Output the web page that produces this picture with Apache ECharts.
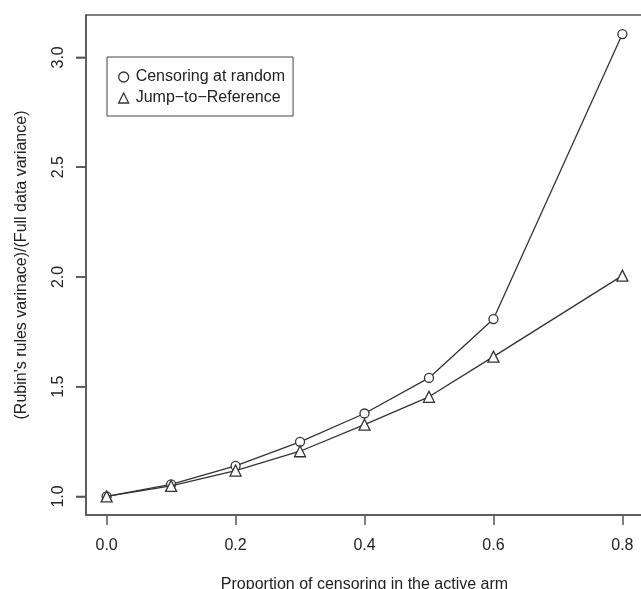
<!DOCTYPE html>
<html>
<head>
<meta charset="utf-8">
<script src="https://cdn.jsdelivr.net/npm/echarts@6/dist/echarts.min.js"></script>
<style>
  html, body { margin: 0; padding: 0; background: #fff; }
  #chart { width: 641px; height: 589px; }
</style>
</head>
<body>
<div id="chart"></div>
<script>
// === DATA ===
const propCensored = [0.0, 0.1, 0.2, 0.3, 0.4, 0.5, 0.6, 0.8];
const carRatio = [1.0, 1.055, 1.139, 1.249, 1.378, 1.540, 1.808, 3.106];
const j2rRatio = [1.0, 1.048, 1.118, 1.206, 1.327, 1.454, 1.637, 2.006];
const xTicks = [0.0, 0.2, 0.4, 0.6, 0.8];
const yTicks = [1.0, 1.5, 2.0, 2.5, 3.0];

const INK = '#333333';
const FRAME = '#555555';
const FONT = 'Liberation Sans, Arial, sans-serif';
const X_MIN = -0.032, X_MAX = 0.832;
const Y_MIN = 0.9156, Y_MAX = 3.193;
const TICK_LEN = 10;

const chart = echarts.init(document.getElementById('chart'), null, { renderer: 'canvas' });

const pairs = (xs, ys) => xs.map((x, i) => [x, ys[i]]);
const markStyle = { color: '#ffffff', borderColor: INK, borderWidth: 1.3 };

// y ticks drawn outward from the left frame, placed through the axis scale
function renderYTick(params, api) {
    const p = api.coord([api.value(0), api.value(1)]);
    return {
        type: 'line',
        shape: { x1: p[0] - TICK_LEN, y1: p[1], x2: p[0], y2: p[1] },
        style: { stroke: FRAME, lineWidth: 1.5 }
    };
}

chart.setOption({
    animation: false,
    backgroundColor: '#ffffff',
    textStyle: { fontFamily: FONT },
    grid: {
        left: 86, top: 15, right: -2, bottom: 74,
        outerBoundsMode: 'none',
        show: true, borderColor: FRAME, borderWidth: 1.5
    },
    legend: {
        orient: 'vertical',
        left: 107, top: 57,
        padding: [12, 8, 10, 11],
        itemWidth: 10, itemHeight: 10, itemGap: 5,
        borderColor: '#444444', borderWidth: 1,
        textStyle: { color: '#222222', fontSize: 16, fontFamily: FONT, padding: [0, 0, 0, 2] },
        data: [
            { name: 'Censoring at random', icon: 'circle', itemStyle: markStyle },
            { name: 'Jump\u2212to\u2212Reference', icon: 'triangle', itemStyle: markStyle }
        ]
    },
    xAxis: {
        type: 'value',
        min: X_MIN, max: X_MAX,
        name: 'Proportion of censoring in the active arm',
        nameLocation: 'middle', nameGap: 62,
        nameTextStyle: { color: '#222222', fontSize: 16, fontFamily: FONT },
        axisLine: { show: true, onZero: false, lineStyle: { color: FRAME, width: 1.5 } },
        splitLine: { show: false },
        axisTick: { show: true, customValues: xTicks, length: TICK_LEN,
            lineStyle: { color: FRAME, width: 1.5 } },
        axisLabel: { customValues: xTicks, margin: 23, color: '#222222', fontSize: 16,
            formatter: v => v.toFixed(1) }
    },
    yAxis: {
        type: 'value',
        min: Y_MIN, max: Y_MAX,
        name: "(Rubin's rules varinace)/(Full data variance)",
        nameLocation: 'middle', nameGap: 56, nameRotate: 90,
        nameTextStyle: { color: '#222222', fontSize: 16, fontFamily: FONT },
        axisLine: { show: true, onZero: false, lineStyle: { color: FRAME, width: 1.5 } },
        splitLine: { show: false },
        axisTick: { show: true, customValues: yTicks, length: TICK_LEN,
            lineStyle: { color: FRAME, width: 1.5 } },
        axisLabel: { customValues: yTicks, margin: 19, rotate: 90, color: '#222222', fontSize: 16,
            formatter: v => v.toFixed(1) }
    },
    series: [
        {
            name: 'Censoring at random',
            type: 'line',
            data: pairs(propCensored, carRatio),
            symbol: 'circle', symbolSize: 9,
            lineStyle: { color: INK, width: 1.3 },
            itemStyle: markStyle,
            z: 2
        },
        {
            name: 'Jump\u2212to\u2212Reference',
            type: 'line',
            data: pairs(propCensored, j2rRatio),
            symbol: 'triangle', symbolSize: 11,
            lineStyle: { color: INK, width: 1.3 },
            itemStyle: markStyle,
            z: 3
        },
        {
            name: 'yTicks',
            type: 'custom',
            clip: false,
            silent: true,
            renderItem: renderYTick,
            data: yTicks.map(v => [X_MIN, v]),
            z: 1
        }
    ]
});
</script>
</body>
</html>
